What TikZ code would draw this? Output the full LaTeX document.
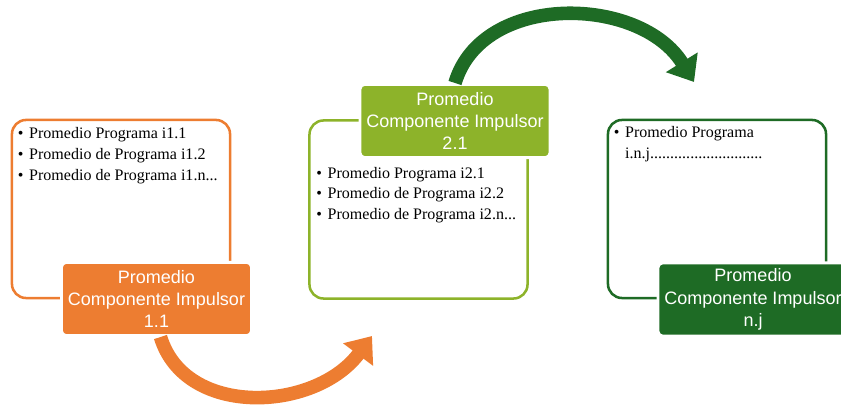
\documentclass[tikz,border=0pt]{standalone}
\usepackage{fontspec}
\setmainfont{Liberation Serif}
\setsansfont{Liberation Sans}
\usetikzlibrary{calc, arrows.meta, positioning}

\definecolor{impOrange}{HTML}{ED7D31}
\definecolor{impLime}{HTML}{8DB32A}
\definecolor{impGreen}{HTML}{1E6B25}

\begin{document}
\begin{tikzpicture}[x=0.025cm, y=0.025cm,
	frame/.style={draw=#1, line width=1.8pt, rounded corners=0.35cm,
		minimum width=5.45cm, minimum height=4.45cm, inner sep=0pt},
	title/.style={fill=#1, draw=white, line width=2pt, rounded corners=0.12cm,
		minimum width=4.75cm, minimum height=1.83cm, inner sep=0pt, align=center,
		text=white, font=\sffamily\fontsize{12.8}{15.8}\selectfont},
	items/.style={anchor=north west, inner sep=0pt, font=\fontsize{11.4}{14.8}\selectfont},
	flow/.style={draw=#1, line width=0.34cm, -{Triangle[width=0.9cm, length=0.58cm]}}]
	% NOTE: coordinates are pixels of the sketch, y counted downwards as negative.
	\useasboundingbox (0,0) rectangle (841,-405);

	\node[frame=impOrange] (box1) at (121,-209) {};
	\node[frame=impLime] (box2) at (418.5,-209.5) {};
	\node[frame=impGreen] (box3) at (717,-209) {};

	\node[title=impOrange] (fill1) at (156.5,-299) {Promedio\\Componente Impulsor\\1.1};
	\node[title=impLime] (fill2) at (455,-121) {Promedio\\Componente Impulsor\\2.1};
	\node[title=impGreen] (fill3) at (753,-299.5) {Promedio\\Componente Impulsor\\n.j};

	\node[items] (list1) at ($(box1.north west)+(7,-5)$) {%
		\begin{tabular}{@{}l@{\hspace{4pt}}l@{}}
			\textbullet & Promedio Programa i1.1\\
			\textbullet & Promedio de Programa i1.2\\
			\textbullet & Promedio de Programa i1.n...
		\end{tabular}};
	\node[items] (list2) at ($(box2.north west)+(8,-44)$) {%
		\begin{tabular}{@{}l@{\hspace{4pt}}l@{}}
			\textbullet & Promedio Programa i2.1\\
			\textbullet & Promedio de Programa i2.2\\
			\textbullet & Promedio de Programa i2.n...
		\end{tabular}};
	\node[items] (list3) at ($(box3.north west)+(7,-4)$) {%
		\begin{tabular}{@{}l@{\hspace{4pt}}l@{}}
			\textbullet & Promedio Programa\\
			& i.n.j............................
		\end{tabular}};

	\coordinate (tipA) at (372,-336);
	\coordinate (tipB) at (694,-82);
	\draw[flow=impOrange] ($(fill1.south)+(4,0)$) .. controls (185,-418) and (315,-412) .. (tipA);
	\draw[flow=impGreen] (fill2.north) .. controls (482,8) and (640,5) .. (tipB);
\end{tikzpicture}
\end{document}
